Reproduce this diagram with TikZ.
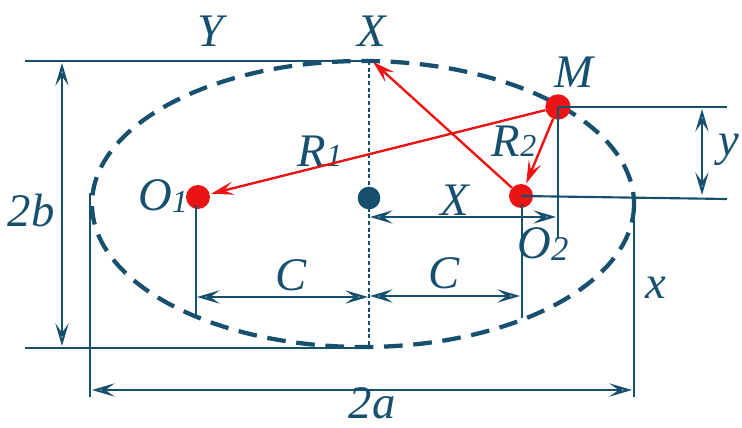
\documentclass[tikz,border=0pt]{standalone}
\usepackage{fontspec}
\setmainfont{Liberation Serif}
\usetikzlibrary{arrows.meta}
\definecolor{dc}{RGB}{22,80,110}
\definecolor{rc}{RGB}{235,20,20}
\begin{document}
\begin{tikzpicture}[x=0.75pt,y=-0.75pt,
  dim/.style={draw=dc,line width=1.6pt},
  dimarrow/.style={dim,{Stealth[open,length=17pt,width=10pt,inset=7pt]}-{Stealth[open,length=17pt,width=10pt,inset=7pt]}},
  redarrow/.style={draw=rc,line width=1.8pt,-{Stealth[length=17pt,width=10pt,inset=7pt]},shorten >=1pt},
  reddot/.style={circle,fill=rc,minimum size=18pt,inner sep=0pt},
  lbl/.style={text=dc,font=\fontsize{35}{35}\selectfont\itshape,inner sep=0pt}]
\useasboundingbox (0,0) rectangle (742,428);
% ellipse
\draw[dc,line width=3.2pt,dash pattern=on 14pt off 8pt] (363,204) ellipse [x radius=271,y radius=143];
% center line
\coordinate (Ctop) at (369,61);
\coordinate (Cbot) at (369,348);
\draw[dc,line width=1pt,densely dashed] (Ctop) -- (Cbot);
\node[circle,fill=dc,minimum size=17pt,inner sep=0pt] (C0) at (369,198) {};
% top and bottom lines
\coordinate (TL) at (25,61);
\coordinate (BL) at (25,348);
\coordinate (BR) at (372,348);
\coordinate (TR) at (372,61);
\draw[dim] (TL) -- (TR);
\draw[dim] (BL) -- (BR);
% 2b
\coordinate (bA) at (62,63);
\coordinate (bB) at (62,346);
\draw[dimarrow] (bA) -- (bB);
\node[lbl] (l2b) at (31,211) {2b};
% left/right verticals
\coordinate (LV1) at (90,193);
\coordinate (LV2) at (90,397);
\coordinate (RV1) at (634,196);
\coordinate (RV2) at (634,397);
\draw[dim] (LV1) -- (LV2);
\draw[dim] (RV1) -- (RV2);
% 2a
\coordinate (aA) at (92,390);
\coordinate (aB) at (632,390);
\draw[dimarrow] (aA) -- (aB);
\node[lbl] (l2a) at (372,403) {2a};
% foci
\node[reddot] (O1) at (198,197) {};
\node[reddot] (O2) at (521,196) {};
\node[reddot,minimum size=19pt] (M) at (558,107) {};
\coordinate (O1b) at (196,317);
\coordinate (O2b) at (522,318);
\coordinate (Mb) at (558,238);
\coordinate (Mr) at (727,107);
\coordinate (O2r) at (727,199);
\draw[dim] (O1.center) ++(-2,8) -- (O1b);
\draw[dim] (O2.center) ++(1,8) -- (O2b);
\draw[dim] (M.center) -- (Mb);
\draw[dim] (M.center) -- (Mr);
\draw[dim] (O2.center) -- (O2r);
% C arrows
\coordinate (c1a) at (197,297);
\coordinate (c1b) at (368,297);
\coordinate (c2a) at (370,296);
\coordinate (c2b) at (520,296);
\draw[dimarrow] (c1a) -- (c1b);
\draw[dimarrow] (c2a) -- (c2b);
\node[lbl] (lC1) at (291,275) {C};
\node[lbl] (lC2) at (444,273) {C};
% X arrow
\coordinate (xa) at (370,217);
\coordinate (xb) at (556,217);
\draw[dimarrow] (xa) -- (xb);
\node[lbl] (lX) at (455,200) {X};
% y arrow
\coordinate (ya) at (702,109);
\coordinate (yb) at (702,195);
\draw[dimarrow] (ya) -- (yb);
\node[lbl,anchor=west] (ly) at (718,150) {y};
% labels
\node[lbl] (lXt) at (372,31) {X};
\node[lbl] (lY) at (210,31) {Y};
\node[lbl] (lM) at (574,72) {M};
\node[lbl] (lx) at (656,288) {x};
\node[lbl] (lO1) at (163,196) {O\raisebox{-1pt}{\fontsize{24}{24}\selectfont 1}};
\node[lbl] (lO2) at (543,244) {O\raisebox{-2pt}{\fontsize{26}{26}\selectfont 2}};
\node[lbl] (lR1) at (320,151) {R\fontsize{24}{24}\selectfont 1};
\node[lbl] (lR2) at (514,141) {R\fontsize{24}{24}\selectfont 2};
% red arrows
\draw[redarrow] (M) -- (O1);
\draw[redarrow] (M) -- (O2);
\draw[redarrow] (O2) -- (TR);
\end{tikzpicture}
\end{document}
